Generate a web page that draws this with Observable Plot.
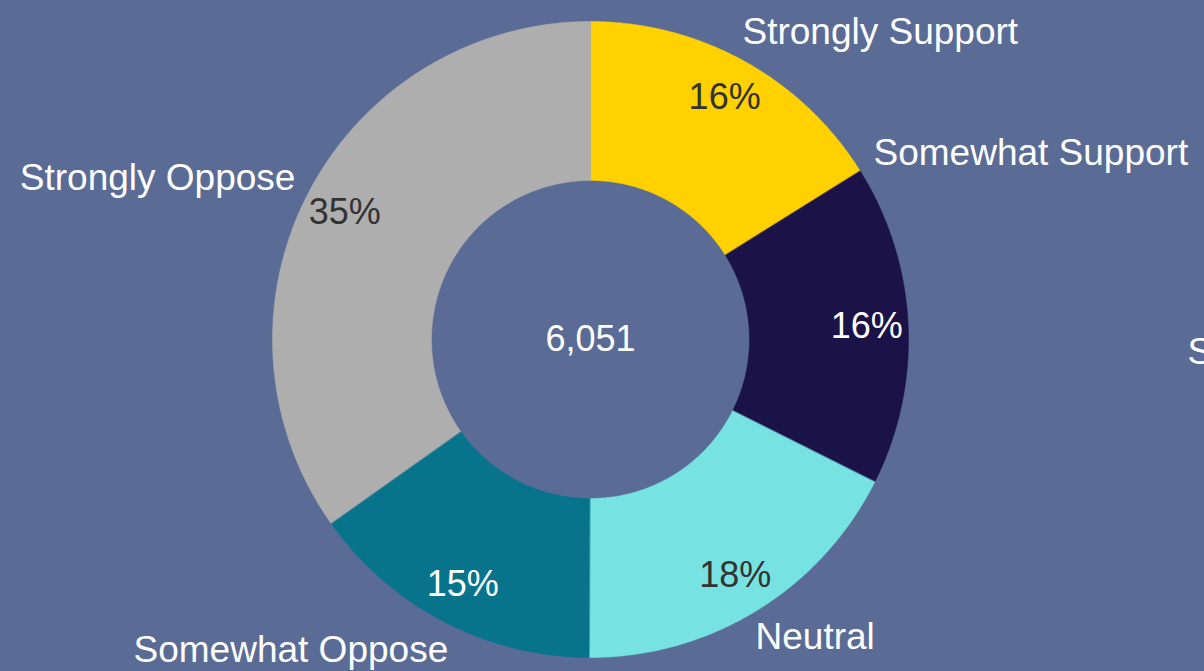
<!DOCTYPE html>
<html>
<head>
<meta charset="utf-8">
<script src="https://cdn.jsdelivr.net/npm/d3@7"></script>
<script src="https://cdn.jsdelivr.net/npm/@observablehq/plot@0.6"></script>
<style>
  html, body { margin: 0; padding: 0; background: #5A6C95; overflow: hidden; }
  #chart svg { display: block; overflow: hidden; }
</style>
</head>
<body>
<div id="chart"></div>
<script>
// ---- data ----
const categories = ["Strongly Support", "Somewhat Support", "Neutral", "Somewhat Oppose", "Strongly Oppose"];
const counts = [975, 985, 1070, 915, 2106];
const colors = ["#FFD100", "#1B1347", "#77E2E2", "#07748C", "#AEAEAE"];
const pctTextColors = ["#333333", "#FFFFFF", "#333333", "#FFFFFF", "#333333"];

// ---- layout (not data) ----
const W = 1204, H = 671;
const CX = 590, CY = 339, R = 318;          // pixel centre & outer radius
const INNER = 0.5;                           // inner radius as fraction of outer
const PCT_R = 0.87;                          // radius of percentage labels
const FONT = 36;
const LABEL_FONT = 37;
// outer category label anchors (unit coordinates, outer radius = 1)
const outerLabelLayout = [
  {x: 0.478, y: 0.965, anchor: "start"},
  {x: 0.890, y: 0.585, anchor: "start"},
  {x: 0.519, y: -0.937, anchor: "start"},
  {x: -1.437, y: -0.978, anchor: "start"},
  {x: -0.928, y: 0.506, anchor: "end"}
];

// ---- derived ----
const total = d3.sum(counts);
let acc = 0;
const slices = categories.map((c, i) => {
  const a0 = acc / total * 2 * Math.PI;
  acc += counts[i];
  const a1 = acc / total * 2 * Math.PI;
  return {cat: c, value: counts[i], a0, a1, mid: (a0 + a1) / 2,
          pct: Math.round(counts[i] / total * 100) + "%", i};
});

const ring = [];
for (const s of slices) {
  const n = 120;
  for (let k = 0; k <= n; k++) {
    const a = s.a0 + (s.a1 - s.a0) * k / n;
    ring.push({cat: s.cat, x: Math.sin(a), y: Math.cos(a)});
  }
  for (let k = n; k >= 0; k--) {
    const a = s.a0 + (s.a1 - s.a0) * k / n;
    ring.push({cat: s.cat, x: INNER * Math.sin(a), y: INNER * Math.cos(a)});
  }
}

const pctLabels = slices.map(s => ({
  x: PCT_R * Math.sin(s.mid), y: PCT_R * Math.cos(s.mid), text: s.pct, color: pctTextColors[s.i]
}));
const outerLabels = slices.map((s, i) => ({...outerLabelLayout[i], text: s.cat}));

const font = "'Liberation Sans', Arial, sans-serif";

const chart = Plot.plot({
  width: W, height: H,
  margin: 0,
  x: {domain: [-CX / R, (W - CX) / R], range: [0, W], axis: null},
  y: {domain: [-(H - CY) / R, CY / R], range: [H, 0], axis: null},
  color: {domain: categories, range: colors},
  style: {background: "#5A6C95", fontFamily: font},
  marks: [
    Plot.line(ring, {x: "x", y: "y", z: "cat", fill: "cat", stroke: "cat", strokeWidth: 0.5, curve: "linear-closed"}),
    Plot.text(pctLabels, {x: "x", y: "y", text: "text", fill: d => d.color, fontSize: FONT, fontFamily: font}),
    Plot.text(outerLabels.filter(d => d.anchor === "start"), {x: "x", y: "y", text: "text", fill: "#FFFFFF", fontSize: LABEL_FONT, textAnchor: "start", fontFamily: font}),
    Plot.text(outerLabels.filter(d => d.anchor === "end"), {x: "x", y: "y", text: "text", fill: "#FFFFFF", fontSize: LABEL_FONT, textAnchor: "end", fontFamily: font}),
    Plot.text([d3.format(",")(total)], {x: 0, y: 0, text: d => d, fill: "#FFFFFF", fontSize: FONT, fontFamily: font}),
    Plot.text(["S"], {x: (1187 - CX) / R, y: (CY - 352) / R, text: d => d, fill: "#FFFFFF", fontSize: LABEL_FONT, textAnchor: "start", fontFamily: font})
  ]
});
document.getElementById("chart").appendChild(chart);
</script>
</body>
</html>
